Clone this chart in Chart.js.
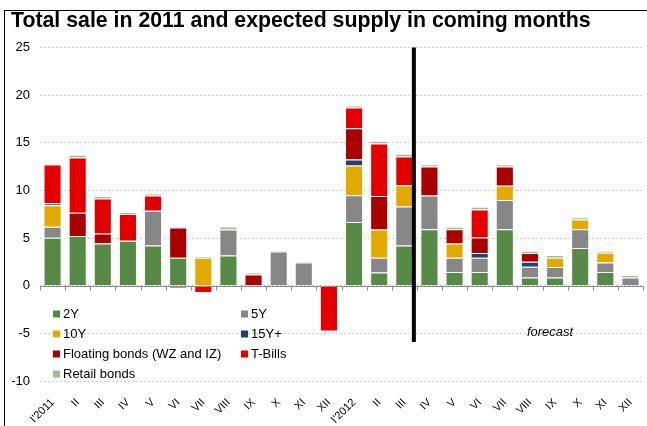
<!DOCTYPE html>
<html>
<head>
<meta charset="utf-8">
<script src="https://cdn.jsdelivr.net/npm/chart.js@4"></script>
<style>
  body { margin: 0; background: #fff; }
  #wrap { position: relative; width: 647px; height: 426px; overflow: hidden; }
  #frame { position: absolute; left: 4px; top: 10px; right: -2px; bottom: -2px;
           border-left: 1px solid #000; border-top: 1px solid #000; pointer-events: none; }
</style>
</head>
<body>
<div id="wrap">
  <canvas id="chart" width="647" height="426"></canvas>
  <div id="frame"></div>
</div>
<script>
const months = ["I'2011", "II", "III", "IV", "V", "VI", "VII", "VIII", "IX", "X", "XI", "XII",
                "I'2012", "II", "III", "IV", "V", "VI", "VII", "VIII", "IX", "X", "XI", "XII"];

// values in PLN bn
const bonds2Y    = [5.03, 5.21, 4.44, 4.72, 4.23, 2.94, null, 3.18, null, null, null, null,
                    6.68, 1.40, 4.23, 5.94, 1.43, 1.43, 5.94, 0.87, 0.87, 3.95, 1.43, null];
const bonds5Y    = [1.16, null, null, null, 3.64, null, null, 2.73, null, 3.60, 2.45, null,
                    2.83, 1.54, 4.09, 3.54, 1.51, 1.51, 3.05, 1.12, 1.09, 1.99, 1.02, 0.87];
const bonds10Y   = [2.27, null, null, null, null, null, 2.94, null, null, null, null, null,
                    3.11, 2.97, 2.24, null, 1.50, null, 1.50, null, 0.98, 1.02, 1.01, null];
const bonds15Y   = [0.21, null, null, null, null, null, null, null, null, null, null, null,
                    0.63, null, null, null, null, 0.49, null, 0.53, null, null, null, null];
const floating   = [null, 2.45, 1.05, null, null, 3.18, null, null, 1.19, null, null, null,
                    3.29, 3.50, null, 3.04, 1.50, 1.64, 2.03, 0.91, null, null, null, null];
const tBills     = [4.06, 5.80, 3.67, 2.80, 1.61, -0.30, -0.77, null, null, null, null, -4.80,
                    2.17, 5.52, 3.01, null, null, 2.94, null, null, null, null, null, null];
const retail     = [0.10, 0.28, 0.25, 0.21, 0.17, 0.10, 0.14, 0.31, 0.17, 0.10, 0.07, null,
                    0.21, 0.28, 0.28, 0.24, 0.25, 0.28, 0.24, 0.24, 0.28, 0.24, 0.21, 0.25];

const seriesNames  = ['2Y', '5Y', '10Y', '15Y+', 'Floating bonds (WZ and IZ)', 'T-Bills', 'Retail bonds'];
const seriesValues = [bonds2Y, bonds5Y, bonds10Y, bonds15Y, floating, tBills, retail];
const seriesColors = ['#578a47', '#878787', '#e2a900', '#1f4273', '#a90000', '#e40000', '#9fbe90'];

const forecastStart = 15; // first forecast month (IV'2012)
const font = "'Liberation Sans', Arial, sans-serif";

const datasets = seriesNames.map((name, i) => ({
  label: name,
  data: seriesValues[i],
  backgroundColor: seriesColors[i],
  borderColor: 'rgba(255,255,255,0.55)',
  borderWidth: 1,
  stack: 'all'
}));

// zero axis with ticks, forecast divider, caption and legend drawn inside the plot
const overlay = {
  id: 'overlay',
  afterDatasetsDraw(chart) {
    const { ctx, chartArea: a, scales: { x, y } } = chart;
    ctx.save();
    const y0 = Math.round(y.getPixelForValue(0)) + 0.5;
    ctx.strokeStyle = '#8c8c8c';
    ctx.lineWidth = 1;
    ctx.beginPath();
    ctx.moveTo(a.left, y0);
    ctx.lineTo(a.right, y0);
    for (let i = 0; i <= months.length; i++) {
      const px = Math.round(x.getPixelForValue(i - 0.5)) + 0.5;
      ctx.moveTo(px, y0);
      ctx.lineTo(px, y0 + 4);
    }
    ctx.stroke();

    // divider between actual and forecast
    const dx = x.getPixelForValue(forecastStart - 0.62);
    ctx.strokeStyle = '#000';
    ctx.lineWidth = 4;
    ctx.beginPath();
    ctx.moveTo(dx, a.top);
    ctx.lineTo(dx, y.getPixelForValue(-5.9));
    ctx.stroke();

    ctx.fillStyle = '#000';
    ctx.font = 'italic 13px ' + font;
    ctx.textAlign = 'center';
    ctx.textBaseline = 'middle';
    ctx.fillText('forecast', x.getPixelForValue(19.8), y.getPixelForValue(-5) - 1);

    // legend, two columns
    ctx.font = '13px ' + font;
    ctx.textAlign = 'left';
    seriesNames.forEach((name, i) => {
      const col = i % 2, row = Math.floor(i / 2);
      const lx = a.left + 13 + col * 188;
      const ly = y0 + 27 + row * 20;
      ctx.fillStyle = seriesColors[i];
      ctx.fillRect(lx, ly - 3, 7, 7);
      ctx.fillStyle = '#000';
      ctx.fillText(name, lx + 10, ly + 1);
    });
    ctx.restore();
  }
};

new Chart(document.getElementById('chart'), {
  type: 'bar',
  data: { labels: months, datasets: datasets },
  options: {
    responsive: false,
    animation: false,
    layout: { padding: { left: 11, right: 4, top: 0, bottom: 0 } },
    datasets: { bar: { categoryPercentage: 1, barPercentage: 0.72 } },
    plugins: {
      legend: { display: false },
      tooltip: { enabled: false },
      title: {
        display: true,
        text: 'Total sale in 2011 and expected supply in coming months',
        align: 'start',
        color: '#000',
        font: { family: font, size: 21.3, weight: 'bold' },
        padding: { top: 8, bottom: 14 }
      }
    },
    scales: {
      x: {
        stacked: true,
        afterFit: (s) => { s.height = 45; },
        grid: { display: false },
        border: { display: false },
        ticks: {
          color: '#000',
          font: { family: font, size: 11 },
          maxRotation: 45,
          minRotation: 45,
          autoSkip: false,
          padding: 7
        }
      },
      y: {
        stacked: true,
        min: -10,
        max: 25,
        afterFit: (s) => { s.width = 29; },
        grid: { color: '#cfcfcf', drawTicks: false },
        border: { display: false, dash: [2, 2] },
        ticks: {
          stepSize: 5,
          color: '#000',
          padding: 10,
          font: { family: font, size: 13 }
        }
      }
    }
  },
  plugins: [overlay]
});
</script>
</body>
</html>
